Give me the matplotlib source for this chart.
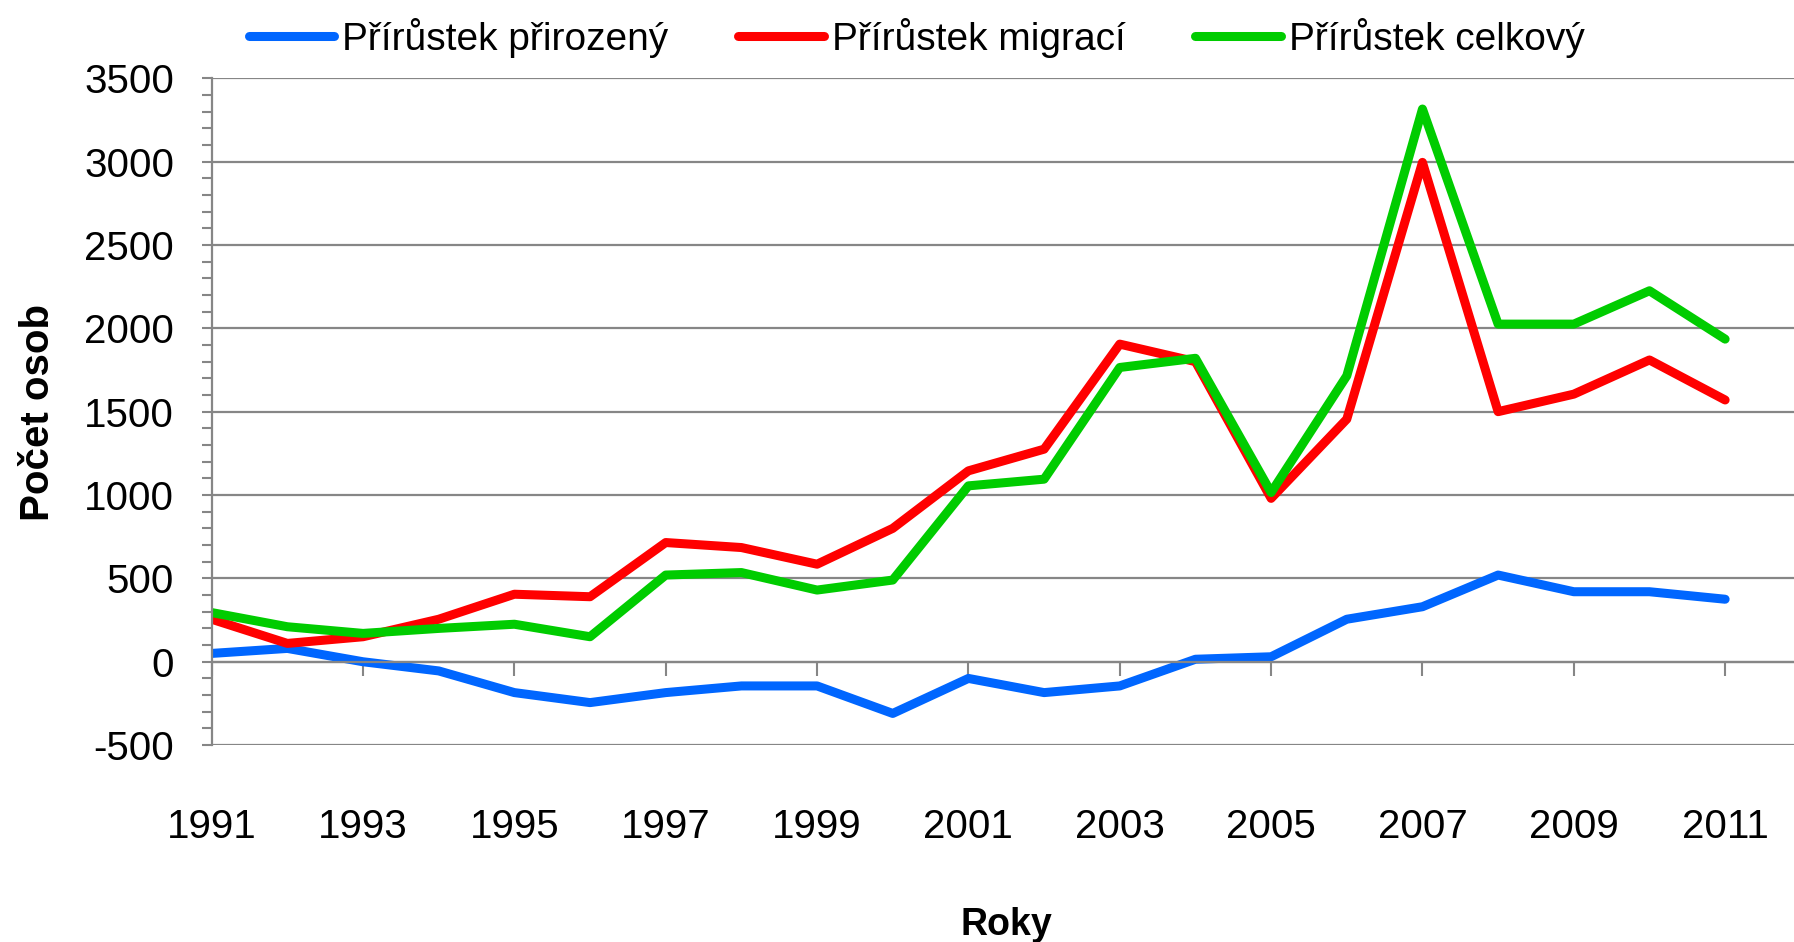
import matplotlib
matplotlib.use("Agg")
import matplotlib.pyplot as plt
from matplotlib.ticker import MultipleLocator

# data
years = list(range(1991, 2012))
prirozeny = [50, 80, 0, -55, -185, -245, -185, -145, -145, -310, -100,
             -185, -145, 15, 30, 255, 330, 520, 420, 420, 375]
migraci = [255, 110, 150, 255, 405, 390, 715, 685, 585, 800, 1145,
           1275, 1905, 1800, 980, 1455, 2995, 1500, 1605, 1810, 1570]
celkovy = [295, 210, 170, 200, 225, 150, 520, 535, 430, 490, 1055,
           1095, 1765, 1820, 1015, 1715, 3315, 2025, 2025, 2225, 1935]
labels = ["Přírůstek přirozený", "Přírůstek migrací", "Přírůstek celkový"]
colors = ["#0066FF", "#FF0000", "#00CC00"]

plt.rcParams["axes.unicode_minus"] = False
font = ["Liberation Sans", "DejaVu Sans"]
plt.rcParams["font.family"] = font
grey = "#868686"

fig = plt.figure(figsize=(17.94, 9.42), dpi=100)
ax = fig.add_axes([0.118, 0.209, 0.882, 0.708])

for series, lab, col in zip([prirozeny, migraci, celkovy], labels, colors):
    ax.plot(years, series, color=col, lw=6.5, label=lab,
            solid_capstyle="round", solid_joinstyle="round")

ax.set_xlim(1991, 2011.91)
ax.set_ylim(-500, 3500)
ax.yaxis.set_major_locator(MultipleLocator(500))
ax.yaxis.set_minor_locator(MultipleLocator(100))
ax.grid(axis="y", which="major", color=grey, lw=1.6)
ax.set_axisbelow(True)

for s in ["top", "right"]:
    ax.spines[s].set_visible(False)
ax.spines["left"].set_color(grey)
ax.spines["left"].set_linewidth(1.6)
ax.spines["bottom"].set_position(("data", 0))
ax.spines["bottom"].set_color(grey)
ax.spines["bottom"].set_linewidth(1.6)

ax.set_xticks(years[::2])
ax.set_xticklabels([str(y) for y in years[::2]], fontsize=29)
ax.tick_params(axis="x", direction="out", length=10, width=1.5, color=grey, pad=95)
ax.tick_params(axis="y", which="both", direction="out", length=7, width=1.5, color=grey)
ax.tick_params(axis="y", which="major", pad=20, labelsize=29)

fig.text(0.021, 0.562, "Počet osob", rotation=90, ha="center", va="center",
         fontsize=29, fontweight="bold")
fig.text(0.561, 0.018, "Roky", ha="center", va="center",
         fontsize=27, fontweight="bold")

fig.legend(loc="center", bbox_to_anchor=(0.511, 0.96), ncol=3, frameon=False,
           prop={"size": 28}, handlelength=2.2,
           handletextpad=0.2, columnspacing=1.8, borderpad=0)

fig.savefig("out.png", dpi=100)
